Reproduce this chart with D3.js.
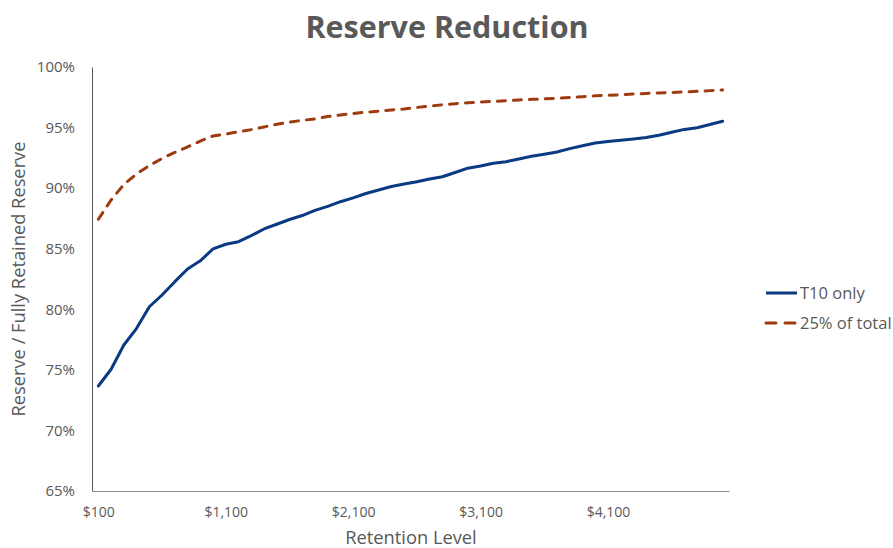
<!DOCTYPE html>
<html>
<head>
<meta charset="utf-8">
<script src="https://cdn.jsdelivr.net/npm/d3@7/dist/d3.min.js"></script>
<style>
  html, body { margin: 0; padding: 0; background: #fff; }
  svg { display: block; }
  text { font-family: "Open Sans", "DejaVu Sans", sans-serif; fill: #595959; }
</style>
</head>
<body>
<svg id="chart" width="893" height="548"></svg>
<script>
// Retention levels $100 .. $5,000 step 100
const retention = [100,200,300,400,500,600,700,800,900,1000,
  1100,1200,1300,1400,1500,1600,1700,1800,1900,2000,
  2100,2200,2300,2400,2500,2600,2700,2800,2900,3000,
  3100,3200,3300,3400,3500,3600,3700,3800,3900,4000,
  4100,4200,4300,4400,4500,4600,4700,4800,4900,5000];

const t10Only = [73.67,75.05,77.05,78.43,80.21,81.18,82.28,83.33,84.00,84.98,
  85.37,85.58,86.08,86.63,87.02,87.41,87.74,88.16,88.49,88.88,
  89.20,89.56,89.85,90.14,90.34,90.53,90.76,90.94,91.29,91.65,
  91.83,92.05,92.18,92.41,92.64,92.80,92.98,93.26,93.50,93.72,
  93.85,93.96,94.06,94.18,94.37,94.61,94.85,94.99,95.25,95.52];

const pctOfTotal = [87.43,89.02,90.30,91.17,91.87,92.45,92.95,93.40,93.89,94.30,
  94.47,94.65,94.83,95.05,95.27,95.44,95.60,95.71,95.91,96.04,
  96.16,96.27,96.35,96.45,96.53,96.66,96.78,96.88,96.97,97.05,
  97.11,97.16,97.21,97.28,97.33,97.37,97.42,97.48,97.55,97.62,
  97.66,97.71,97.77,97.82,97.86,97.90,97.94,97.99,98.05,98.10];

const seriesNames = ["T10 only", "25% of total"];
const yTicks = [65,70,75,80,85,90,95,100];
const xTickValues = [100,1100,2100,3100,4100];

const svg = d3.select("#chart");
const margin = {left: 92, top: 67, right: 729, bottom: 491};

const x = d3.scalePoint()
  .domain(retention)
  .range([margin.left, margin.right])
  .padding(0.5);

const y = d3.scaleLinear()
  .domain([65, 100])
  .range([margin.bottom, margin.top]);

// Title
svg.append("text")
  .attr("x", 447).attr("y", 38)
  .attr("text-anchor", "middle")
  .style("font-size", "30.5px")
  .style("font-weight", "bold")
  .text("Reserve Reduction");

// Y axis
const yAxis = d3.axisLeft(y)
  .tickValues(yTicks)
  .tickSize(0)
  .tickPadding(17)
  .tickFormat(d => d + "%");
const gy = svg.append("g")
  .attr("transform", `translate(${margin.left},0)`)
  .call(yAxis);
gy.select(".domain").attr("stroke", "#595959").attr("stroke-width", 1);
gy.selectAll("text").style("font-size", "15px").attr("fill", "#595959");

// X axis
const xAxis = d3.axisBottom(x)
  .tickValues(xTickValues)
  .tickSize(0)
  .tickPadding(16)
  .tickFormat(d => "$" + d3.format(",")(d));
const gx = svg.append("g")
  .attr("transform", `translate(0,${margin.bottom})`)
  .call(xAxis);
gx.select(".domain").attr("stroke", "#8c8c8c").attr("stroke-width", 1);
gx.selectAll("text").style("font-size", "14px").attr("fill", "#595959");

// Axis titles
svg.append("text")
  .attr("x", 411).attr("y", 544)
  .attr("text-anchor", "middle")
  .style("font-size", "18.3px")
  .text("Retention Level");

svg.append("text")
  .attr("transform", "translate(25,279) rotate(-90)")
  .attr("text-anchor", "middle")
  .style("font-size", "18.3px")
  .text("Reserve / Fully Retained Reserve");

// Lines
const line = d3.line()
  .x((d, i) => x(retention[i]))
  .y(d => y(d));

svg.append("path")
  .datum(pctOfTotal)
  .attr("fill", "none")
  .attr("stroke", "#9e3b0f")
  .attr("stroke-width", 3)
  .attr("stroke-dasharray", "8,8")
  .attr("stroke-linecap", "round")
  .attr("d", line);

svg.append("path")
  .datum(t10Only)
  .attr("fill", "none")
  .attr("stroke", "#0a3a82")
  .attr("stroke-width", 3)
  .attr("stroke-linejoin", "round")
  .attr("stroke-linecap", "round")
  .attr("d", line);

// Legend
const legend = svg.append("g");
const legendItems = [
  {name: seriesNames[0], color: "#0a3a82", dash: null, y: 293},
  {name: seriesNames[1], color: "#9e3b0f", dash: "10,9", y: 323}
];
legendItems.forEach(it => {
  legend.append("line")
    .attr("x1", 766).attr("x2", 797)
    .attr("y1", it.y).attr("y2", it.y)
    .attr("stroke", it.color)
    .attr("stroke-width", 3)
    .attr("stroke-dasharray", it.dash)
    .attr("stroke-linecap", it.dash ? "round" : "butt");
  legend.append("text")
    .attr("x", 800).attr("y", it.y + 5.5)
    .style("font-size", "16.5px")
    .text(it.name);
});
</script>
</body>
</html>
